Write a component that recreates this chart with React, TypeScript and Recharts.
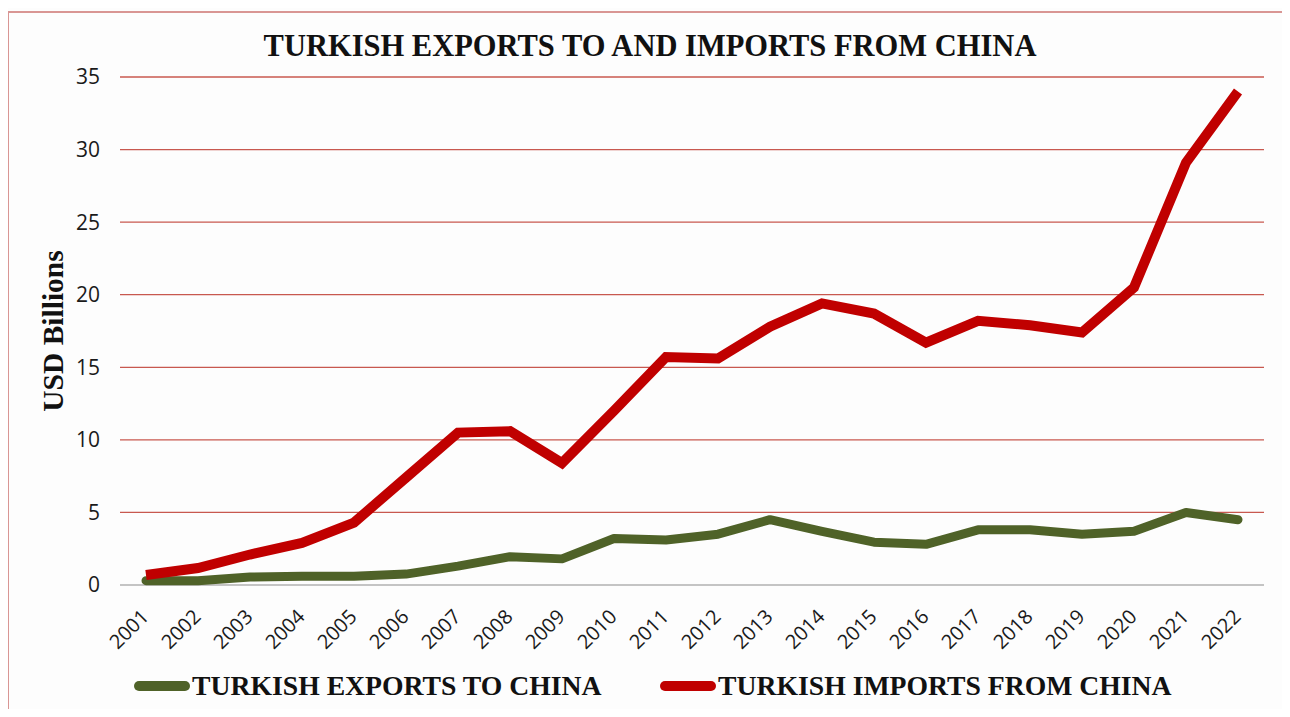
import { LineChart, Line, XAxis, YAxis, CartesianGrid, ReferenceLine } from 'recharts';

const years = [
  '2001', '2002', '2003', '2004', '2005', '2006', '2007', '2008', '2009', '2010', '2011',
  '2012', '2013', '2014', '2015', '2016', '2017', '2018', '2019', '2020', '2021', '2022',
];

// USD billions
const exportsToChina = [
  0.3, 0.3, 0.55, 0.6, 0.6, 0.75, 1.3, 1.95, 1.8, 3.2, 3.1,
  3.5, 4.5, 3.7, 2.95, 2.8, 3.8, 3.8, 3.5, 3.7, 5.0, 4.5,
];
const importsFromChina = [
  0.69, 1.17, 2.1, 2.9, 4.3, 7.4, 10.5, 10.6, 8.4, 12.0, 15.7,
  15.6, 17.8, 19.4, 18.7, 16.7, 18.2, 17.9, 17.4, 20.5, 29.1, 34.0,
];
const yTicks = [0, 5, 10, 15, 20, 25, 30, 35];

const data = years.map((year, i) => ({
  year,
  exports: exportsToChina[i],
  imports: importsFromChina[i],
}));

const GREEN = '#4f6228';
const RED = '#c00000';
const SERIF = '"Liberation Serif", "Times New Roman", serif';
const SANS = '"Open Sans", "DejaVu Sans", sans-serif';

const YearTick = ({ x, y, payload }: { x: number; y: number; payload: { value: string } }) => (
  <g transform={`translate(${x + 4},${y + 25})`}>
    <text transform="rotate(-45)" textAnchor="end" fontSize={20} fontFamily={SANS} fill="#1a1a1a">
      {payload.value}
    </text>
  </g>
);

const LegendItem = ({ color, label, left }: { color: string; label: string; left: number }) => (
  <div style={{ position: 'absolute', left, top: 670, display: 'flex', alignItems: 'center' }}>
    <div style={{ width: 56, height: 10, borderRadius: 5, background: color, marginRight: 2 }} />
    <span style={{ fontFamily: SERIF, fontWeight: 'bold', fontSize: 27.7, color: '#111' }}>{label}</span>
  </div>
);

export default function App() {
  return (
    <div style={{ position: 'relative', width: 1290, height: 717, margin: -8, background: '#fdfdfd', overflow: 'hidden' }}>
      <div
        style={{
          position: 'absolute',
          left: 7,
          top: 11,
          width: 1278,
          height: 730,
          border: '2px solid #d99694',
          boxSizing: 'border-box',
        }}
      />
      <div
        style={{
          position: 'absolute',
          left: 0,
          width: 1300,
          top: 29,
          textAlign: 'center',
          fontFamily: SERIF,
          fontWeight: 'bold',
          fontSize: 30.5,
          color: '#111',
        }}
      >
        TURKISH EXPORTS TO AND IMPORTS FROM CHINA
      </div>
      <div
        style={{
          position: 'absolute',
          left: 53,
          top: 331,
          transform: 'translate(-50%, -50%) rotate(-90deg)',
          whiteSpace: 'nowrap',
          fontFamily: SERIF,
          fontWeight: 'bold',
          fontSize: 29.5,
          color: '#111',
        }}
      >
        USD Billions
      </div>
      <div style={{ position: 'absolute', left: 0, top: 0 }}>
        <LineChart width={1290} height={717} data={data} margin={{ top: 77, right: 26, left: 0, bottom: 72 }}>
          <CartesianGrid vertical={false} stroke="#c8584f" strokeWidth={1.3} />
          <XAxis
            dataKey="year"
            axisLine={false}
            tickLine={false}
            interval={0}
            height={60}
            padding={{ left: 26, right: 26 }}
            tick={YearTick}
          />
          <YAxis
            width={120}
            domain={[0, 35]}
            ticks={yTicks}
            axisLine={false}
            tickLine={false}
            tickMargin={14}
            tick={{ fontSize: 21, fontFamily: SANS, fill: '#1a1a1a' }}
          />
          <ReferenceLine y={0} stroke="#c4c4c4" strokeWidth={2} />
          <Line
            dataKey="exports"
            name="TURKISH EXPORTS TO CHINA"
            stroke={GREEN}
            strokeWidth={9}
            strokeLinejoin="round"
            strokeLinecap="round"
            dot={false}
            activeDot={false}
            isAnimationActive={false}
          />
          <Line
            dataKey="imports"
            name="TURKISH IMPORTS FROM CHINA"
            stroke={RED}
            strokeWidth={10}
            strokeLinejoin="miter"
            dot={false}
            activeDot={false}
            isAnimationActive={false}
          />
        </LineChart>
      </div>
      <LegendItem color={GREEN} label="TURKISH EXPORTS TO CHINA" left={134} />
      <LegendItem color={RED} label="TURKISH IMPORTS FROM CHINA" left={660} />
    </div>
  );
}
